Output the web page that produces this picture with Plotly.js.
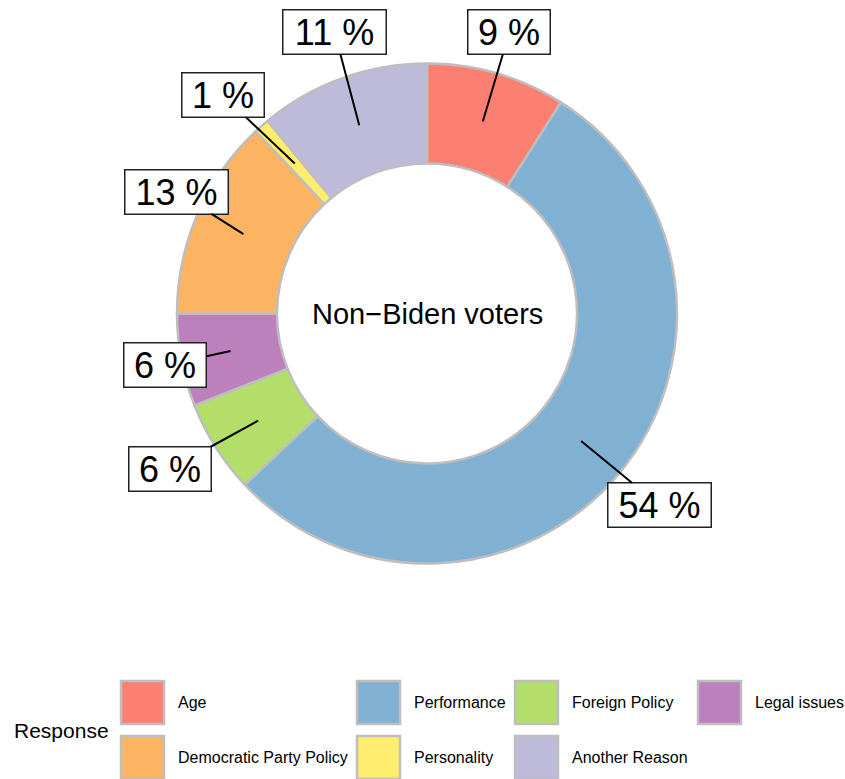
<!DOCTYPE html>
<html>
<head>
<meta charset="utf-8">
<script src="https://cdn.plot.ly/plotly-3.0.1.min.js"></script>
<style>html,body{margin:0;padding:0;background:#fff;}#chart{width:845px;height:779px;}</style>
</head>
<body>
<div id="chart"></div>
<script>
// ---- data ----
const categories = ['Age','Performance','Foreign Policy','Legal issues','Democratic Party Policy','Personality','Another Reason'];
const values = [9, 54, 6, 6, 13, 1, 11];
const pctLabels = values.map(v => v + ' %');
const centerText = 'Non\u2212Biden voters';
const legendTitle = 'Response';

// ---- style / layout ----
const colors = ['#FB8072','#80B1D3','#B3DE69','#BC80BD','#FDB462','#FFED6F','#BEBADA'];
const W = 845, H = 779;
const CX = 427, CY = 313.5, R = 250;          // pie centre / outer radius in pixels
const HOLE = 0.6;
const TIP_FRAC = 0.8;                          // label pointer ends at 80% of outer radius
// label box centres (pixels), in category order
const boxPos = [[509.5,32],[659,505],[170.3,469],[165.3,365.3],[176,191.7],[222.5,95],[334.5,32]];
const FONT = 'Liberation Sans, Arial, Helvetica, sans-serif';

const px2x = p => p / W;
const px2y = p => 1 - p / H;

const trace = {
  type: 'pie',
  labels: categories,
  values: values,
  sort: false,
  direction: 'clockwise',
  rotation: 0,
  hole: HOLE,
  textinfo: 'none',
  showlegend: false,
  marker: {colors: colors, line: {color: '#BEBEBE', width: 2.5}},
  domain: {x: [px2x(CX - R), px2x(CX + R)], y: [px2y(CY + R), px2y(CY - R)]}
};

const annotations = [];
const shapes = [];
const total = values.reduce((a, b) => a + b, 0);
let cum = 0;
values.forEach((v, i) => {
  const mid = (cum + v / 2) / total * 2 * Math.PI;
  cum += v;
  const tx = CX + TIP_FRAC * R * Math.sin(mid);
  const ty = CY - TIP_FRAC * R * Math.cos(mid);
  const [bx, by] = boxPos[i];
  const wide = pctLabels[i].length > 3;
  annotations.push({
    xref: 'paper', yref: 'paper', x: px2x(tx), y: px2y(ty),
    ax: bx - tx, ay: by - ty,
    showarrow: true, arrowhead: 0, arrowwidth: 2, arrowcolor: '#000', standoff: 0,
    text: pctLabels[i],
    font: {family: FONT, size: 36, color: '#000'},
    bgcolor: '#fff', bordercolor: '#222', borderwidth: 1.5, borderpad: 0,
    width: wide ? 102 : 81, height: 43
  });
});

annotations.push({
  xref: 'paper', yref: 'paper', x: px2x(CX), y: px2y(CY),
  text: centerText, showarrow: false,
  font: {family: FONT, size: 29, color: '#000'},
  xanchor: 'center', yanchor: 'middle'
});

// manual legend (row-major, 4 columns)
const colX = [120, 356, 514, 697];
const rowY = [680, 735];
const KEY = 44;
categories.forEach((c, i) => {
  const col = i % 4, row = Math.floor(i / 4);
  const x0 = colX[col], y0 = rowY[row];
  shapes.push({
    type: 'rect', xref: 'paper', yref: 'paper',
    x0: px2x(x0 + 1), x1: px2x(x0 + KEY), y0: px2y(y0 + KEY), y1: px2y(y0 + 1),
    fillcolor: colors[i], line: {color: '#BEBEBE', width: 2.5}
  });
  annotations.push({
    xref: 'paper', yref: 'paper', x: px2x(x0 + KEY + 12), y: px2y(y0 + KEY / 2 + 0.5),
    text: c, showarrow: false, xanchor: 'left', yanchor: 'middle',
    font: {family: FONT, size: 16, color: '#000'}
  });
});
annotations.push({
  xref: 'paper', yref: 'paper', x: px2x(12), y: px2y(730),
  text: legendTitle, showarrow: false, xanchor: 'left', yanchor: 'middle',
  font: {family: FONT, size: 21, color: '#000'}
});

const layout = {
  width: W, height: H,
  margin: {l: 0, r: 0, t: 0, b: 0},
  paper_bgcolor: '#fff', plot_bgcolor: '#fff',
  showlegend: false,
  annotations: annotations,
  shapes: shapes,
  font: {family: FONT}
};

Plotly.newPlot('chart', [trace], layout, {displayModeBar: false, staticPlot: true});
</script>
</body>
</html>
